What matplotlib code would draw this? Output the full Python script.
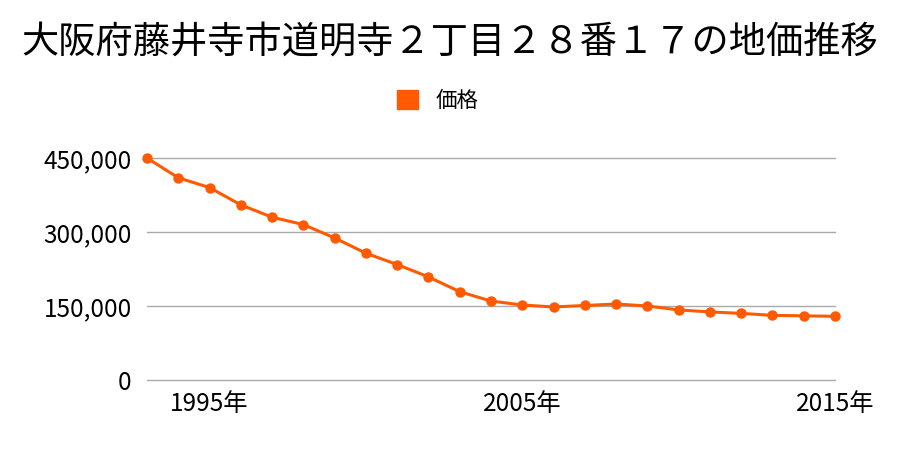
import matplotlib.pyplot as plt
import matplotlib.ticker as mticker

plt.rcParams['font.family'] = ['Noto Sans CJK JP', 'DejaVu Sans']

# Data
years = list(range(1993, 2016))
prices = [450000, 410000, 390000, 355000, 330000, 315000, 288000, 257000,
          234000, 209000, 179000, 160000, 152000, 148000, 151000, 154000,
          150000, 142000, 138000, 135000, 131000, 130000, 129000]
yticks = [0, 150000, 300000, 450000]
xticks = [1995, 2005, 2015]
xlabels = ['1995年', '2005年', '2015年']

title = '大阪府藤井寺市道明寺２丁目２８番１７の地価推移'
color = '#ff5a00'

fig = plt.figure(figsize=(9, 4.5), dpi=100)
ax = fig.add_axes([0.1633, 0.1556, 0.9278 - 0.1633, 0.6489 - 0.1556])

ax.plot(years, prices, color=color, linewidth=2.2, marker='o',
        markersize=6.5, clip_on=False, zorder=3, label='価格')

ax.set_xlim(1993, 2015)
ax.set_ylim(0, 450000)
ax.set_yticks(yticks)
ax.yaxis.set_major_formatter(mticker.FuncFormatter(lambda v, p: f'{int(v):,}'))
ax.set_xticks(xticks)
ax.set_xticklabels(xlabels)
ax.tick_params(axis='both', length=0, labelsize=17.5)
ax.tick_params(axis='y', pad=11)
ax.tick_params(axis='x', pad=8)
ax.grid(axis='y', color='#aaaaaa', linewidth=1)
for gl in ax.get_ygridlines():
    gl.set_clip_on(False)
ax.set_axisbelow(True)
for s in ax.spines.values():
    s.set_visible(False)

fig.text(0.5, 1 - 42 / 450, title, fontsize=26.8, ha='center', va='center')

handle = plt.Rectangle((0, 0), 1, 1, color=color)
fig.legend([handle], ['価格'], loc='center',
           bbox_to_anchor=(437.5 / 900, 1 - 101 / 450),
           bbox_transform=fig.transFigure,
           frameon=False, fontsize=15.5, handlelength=1.0, handleheight=1.0)

fig.savefig('out.png', dpi=100)
